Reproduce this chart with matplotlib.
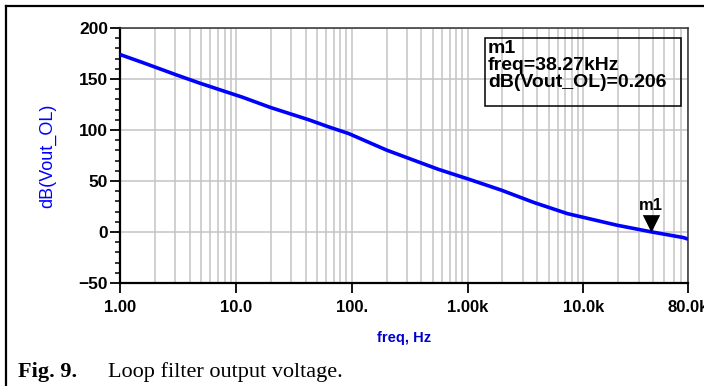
import numpy as np
import matplotlib
matplotlib.use("Agg")
import matplotlib.pyplot as plt
from matplotlib.lines import Line2D
from matplotlib.patches import Rectangle
from matplotlib.ticker import FixedLocator, NullFormatter, LogLocator

# values
freq_hz = [1, 1.58, 3.07, 4.86, 11.5, 20, 42.7, 63.5, 94.3, 200, 558, 1010, 1950,
           3770, 7290, 19600, 38270, 73200, 80000]
vout_db = [174, 166, 154, 146, 132, 122, 110, 103, 96.5, 80.3, 61.5, 52, 41.1,
           28.8, 18, 6.6, 0.206, -5.5, -7]

xtick_vals = [1, 10, 100, 1000, 10000, 80000]
xtick_labels = ["1.00", "10.0", "100.", "1.00k", "10.0k", "80.0k"]
ytick_vals = [-50, 0, 50, 100, 150, 200]

marker_f = 38270
marker_db = 0.206

plt.rcParams['font.family'] = ['Liberation Sans', 'DejaVu Sans']

fig = plt.figure(figsize=(7.04, 3.86), dpi=100)
ax = fig.add_axes([120/704, 1-283/386, (688-120)/704, (283-28)/386])

ax.semilogx(freq_hz, vout_db, color='#0000ff', lw=2.6, solid_capstyle='butt', zorder=3)

ax.set_xlim(1, 80000)
ax.set_ylim(-50, 200)

# grid on every log minor line, horizontal at major y
ax.xaxis.set_major_locator(FixedLocator(xtick_vals))
ax.set_xticklabels(xtick_labels)
ax.xaxis.set_minor_locator(LogLocator(base=10, subs=np.arange(2, 10), numticks=20))
ax.xaxis.set_minor_formatter(NullFormatter())
ax.set_yticks(ytick_vals)
ax.set_yticks(np.arange(-50, 201, 10), minor=True)

ax.grid(True, which='both', axis='x', color='#c4c4c4', lw=1.1)
ax.grid(True, which='major', axis='y', color='#c4c4c4', lw=1.1)
ax.set_axisbelow(True)

ax.tick_params(axis='x', which='major', direction='out', length=7, width=1.3, pad=5,
               labelsize=12, top=False)
ax.tick_params(axis='x', which='minor', length=0)
ax.tick_params(axis='y', which='major', direction='out', length=7.5, width=1.3, pad=1,
               labelsize=12.5)
ax.tick_params(axis='y', which='minor', direction='out', length=3.8, width=1.1)
for lab in ax.get_xticklabels() + ax.get_yticklabels():
    lab.set_fontweight('bold')

for s in ['left', 'bottom']:
    ax.spines[s].set_linewidth(1.6)
    ax.spines[s].set_color('black')
for s in ['top', 'right']:
    ax.spines[s].set_linewidth(1.1)
    ax.spines[s].set_color('#303030')

ax.set_xlabel("freq, Hz", color='#0000cc', fontsize=10.5, fontweight='bold', labelpad=12)
ax.set_ylabel("dB(Vout_OL)", color='#0000ff', fontsize=13, labelpad=16)

# marker m1: downward triangle with its tip on the trace
tri = [(-0.5, 1.0), (0.5, 1.0), (0, 0), (-0.5, 1.0)]
ax.plot([marker_f], [marker_db], marker=tri, color='black', markersize=25,
        markeredgewidth=0, zorder=4)
ax.annotate("m1", (marker_f, marker_db), xytext=(0, 13.5), textcoords='offset points',
            ha='center', va='bottom', fontsize=12, fontweight='bold')

# marker readout box
ax.add_patch(Rectangle((0.6426, 0.694), 0.9877-0.6426, 0.961-0.694, transform=ax.transAxes,
                       fill=False, ec='black', lw=1.1, zorder=5))
ax.text(0.648, 0.952, "m1\nfreq=38.27kHz\ndB(Vout_OL)=0.206", transform=ax.transAxes,
        ha='left', va='top', fontsize=14, fontweight='bold', linespacing=0.98, zorder=5)

# outer frame
fig.add_artist(Line2D([6/704, 1], [1-6/386, 1-6/386], color='black', lw=1.6))
fig.add_artist(Line2D([6/704, 6/704], [0, 1-6/386], color='black', lw=1.6))

# caption
fig.text(18/704, 1-377/386, "Fig. 9.", family=['Liberation Serif'], fontweight='bold',
         fontsize=16, va='baseline')
fig.text(108/704, 1-377/386, "Loop filter output voltage.", family=['Liberation Serif'],
         fontsize=16, va='baseline')

fig.savefig("out.png", dpi=100)
